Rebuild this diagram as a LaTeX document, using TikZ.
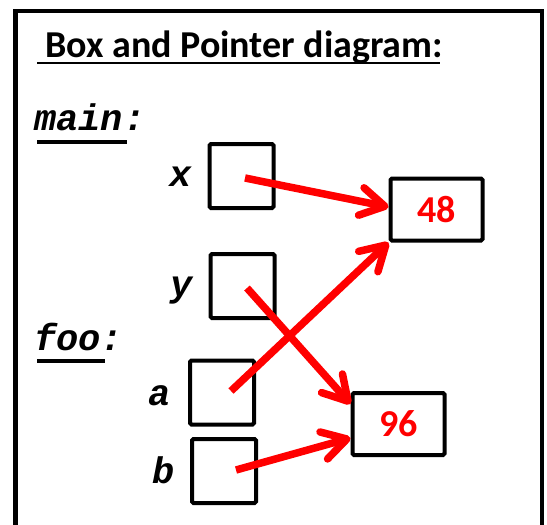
\documentclass[tikz,border=0pt]{standalone}
\usepackage{fontspec}
\setmainfont{Carlito}
\newfontfamily\cour{Liberation Mono}
\usetikzlibrary{arrows.meta}
\tikzset{
  frame/.style={draw=black, line width=4.5pt},
  cell/.style={draw=black, line width=4pt, rounded corners=1.5pt, inner sep=0pt,
    minimum width=64pt, minimum height=64pt},
  valbox/.style={draw=black, line width=4pt, rounded corners=1.5pt, inner sep=0pt,
    minimum width=92pt, minimum height=62pt, text=red,
    font=\fontsize{38}{40}\selectfont\bfseries},
  codelbl/.style={inner sep=0pt, font=\cour\fontsize{37}{39}\selectfont\bfseries\itshape},
  titlelbl/.style={inner sep=0pt, font=\fontsize{38}{40}\selectfont\bfseries},
  uline/.style={draw=black},
  ptr/.style={draw=red, line width=7.5pt, -{Straight Barb[length=24pt, width=28pt, round]}}
}
\begin{document}
\begin{tikzpicture}[x=1pt, y=-1pt]
\useasboundingbox (0,0) rectangle (547,525);
% outer frame (bottom edge lies below the visible area)
\draw[frame] (15.3,11) rectangle (542,545);

% title
\node[titlelbl, anchor=base west] (title) at (45,57) {Box and Pointer diagram:};
\draw[uline, line width=2.8pt] (37,63) -- (440,63);

% section labels
\node[codelbl, anchor=base west] (main) at (34,130) {main:};
\draw[uline, line width=4pt] (37,142) -- (127,142);
\node[codelbl, anchor=base west] (foo) at (34,350) {foo:};
\draw[uline, line width=4pt] (37,361) -- (105,361);

% variable labels
\node[codelbl, anchor=base east] (lx) at (192,186) {x};
\node[codelbl, anchor=base east] (ly) at (193,296) {y};
\node[codelbl, anchor=base east] (la) at (171,405) {a};
\node[codelbl, anchor=base east] (lb) at (175,483) {b};

% pointer cells
\node[cell] (xbox) at (241.5,176) {};
\node[cell] (ybox) at (242.5,286) {};
\node[cell] (abox) at (222,392.5) {};
\node[cell] (bbox) at (224,471) {};

% value boxes
\node[valbox] (v48) at (436.5,209.5) {48};
\node[valbox] (v96) at (398.5,424) {96};

% pointer start points
\coordinate (xs) at (245,178);
\coordinate (ys) at (247,288);
\coordinate (as) at (231,391);
\coordinate (bs) at (236,470);

% pointers
\draw[ptr] (xs) -- ([yshift=2.5pt]v48.west);
\draw[ptr] (ys) -- ([yshift=20pt]v96.west);
\draw[ptr] (as) -- (v48.south west);
\draw[ptr] (bs) -- ([yshift=-14pt]v96.west);
\end{tikzpicture}
\end{document}
